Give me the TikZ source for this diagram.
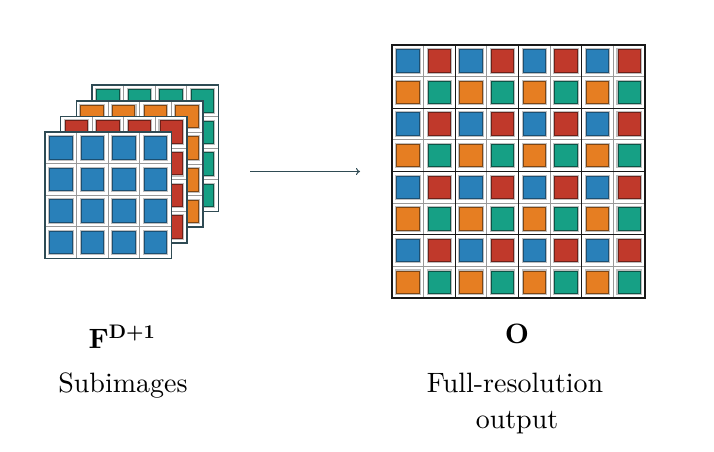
\documentclass[tikz,border=0pt]{standalone}
\usepackage{amsmath}
\usepackage{fontspec}
\setmainfont{lmroman10-regular.otf}[BoldFont=lmroman10-bold.otf, ItalicFont=lmroman10-italic.otf]
\usetikzlibrary{arrows.meta}
\definecolor{cblue}{HTML}{2980B9}
\definecolor{cred}{HTML}{C0392B}
\definecolor{corange}{HTML}{E67E22}
\definecolor{cgreen}{HTML}{16A085}
\definecolor{dblue}{HTML}{1B4F72}
\definecolor{dred}{HTML}{6E2018}
\definecolor{dorange}{HTML}{7E4512}
\definecolor{dgreen}{HTML}{0B5446}
\definecolor{slate}{HTML}{2F4B54}
\tikzset{
  sqhalo/.style={fill=black!25},
  thinline/.style={draw=black!40, line width=0.8pt},
  thickline/.style={draw=black!90, line width=1.3pt},
  panelborder/.style={draw=slate, line width=1.6pt},
  lbl/.style={font=\fontsize{28}{36}\selectfont, anchor=base, inner sep=0pt},
  panelnode/.style={inner sep=0pt, outer sep=0pt, anchor=north west, fill=white},
}
\newcommand\cellsq[4]{% centre x, centre y, fill colour, border colour
  \fill[sqhalo] ({#1-12.8},{#2-12.8}) rectangle ({#1+12.8},{#2+12.8});
  \filldraw[fill=#3, draw=#4, line width=0.9pt] ({#1-11.2},{#2-11.2}) rectangle ({#1+11.2},{#2+11.2});
}
\newcommand\subpanel[5]{% name, x0, y0, fill colour, border colour
  \node[panelnode, minimum size=126.5pt] (#1) at (#2,#3) {};
  \foreach \i in {1,2,3} {
    \draw[thinline] ({#2+\i*31.625},#3) -- ++(0,126.5);
    \draw[thinline] (#2,{#3+\i*31.625}) -- ++(126.5,0);
  }
  \foreach \i in {0,...,3} {
    \foreach \j in {0,...,3} {
      \cellsq{#2+(\i+0.5)*31.625}{#3+(\j+0.5)*31.625}{#4}{#5}
    }
  }
  \draw[panelborder] (#1.north west) rectangle (#1.south east);
}
\begin{document}
\begin{tikzpicture}[x=1pt, y=-1pt]
  \useasboundingbox (0,0) rectangle (714,451);
  \fill[white] (0,0) rectangle (714,451);

  % stacked subimages (back to front)
  \subpanel{pgreen}{92}{85}{cgreen}{dgreen}
  \subpanel{porange}{76.3}{100.7}{corange}{dorange}
  \subpanel{pred}{60.6}{116.3}{cred}{dred}
  \subpanel{pblue}{45}{132}{cblue}{dblue}

  % full-resolution grid
  \node[panelnode, minimum size=253pt] (grid) at (392,45) {};
  \foreach \i in {1,3,5,7} {
    \draw[thinline] ({392+\i*31.625},45) -- ++(0,253);
    \draw[thinline] (392,{45+\i*31.625}) -- ++(253,0);
  }
  \foreach \i in {0,2,4,6} {
    \foreach \j in {0,2,4,6} {
      \cellsq{392+(\i+0.5)*31.625}{45+(\j+0.5)*31.625}{cblue}{dblue}
      \cellsq{392+(\i+1.5)*31.625}{45+(\j+0.5)*31.625}{cred}{dred}
      \cellsq{392+(\i+0.5)*31.625}{45+(\j+1.5)*31.625}{corange}{dorange}
      \cellsq{392+(\i+1.5)*31.625}{45+(\j+1.5)*31.625}{cgreen}{dgreen}
    }
  }
  \foreach \i in {2,4,6} {
    \draw[thickline] ({392+\i*31.625},45) -- ++(0,253);
    \draw[thickline] (392,{45+\i*31.625}) -- ++(253,0);
  }
  \draw[thickline] (grid.north west) rectangle (grid.south east);

  % arrow
  \coordinate (astart) at (250,171.5);
  \coordinate (aend) at (360,171.5);
  \draw[slate, line width=1pt, -{To[length=4pt,width=7pt]}] (astart) -- (aend);

  % labels
  \node[lbl] (fsym) at (122,348) {$\mathbf{F}^{\text{\bfseries D+1}}$};
  \node[lbl] (fname) at (123,392) {Subimages};
  \node[lbl] (osym) at (517,343) {$\mathbf{O}$};
  \node[lbl] (oname1) at (515,392) {Full-resolution};
  \node[lbl] (oname2) at (517,428) {output};
\end{tikzpicture}
\end{document}
